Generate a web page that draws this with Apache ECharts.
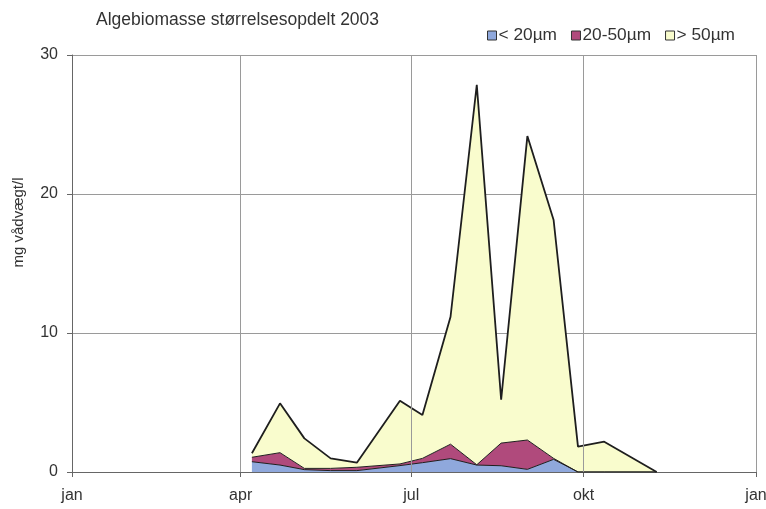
<!DOCTYPE html>
<html>
<head>
<meta charset="utf-8">
<script src="https://cdn.jsdelivr.net/npm/echarts@6/dist/echarts.min.js"></script>
<style>
html,body{margin:0;padding:0;background:#fff;}
#chart{width:766px;height:509px;}
</style>
</head>
<body>
<div id="chart"></div>
<script>
// Sample dates (2003)
var dates = ['2003-04-07','2003-04-22','2003-05-05','2003-05-19','2003-06-02','2003-06-25','2003-07-07','2003-07-22','2003-08-05','2003-08-18','2003-09-01','2003-09-15','2003-09-28','2003-10-12','2003-11-09'];
// mg vådvægt/l per size class
var small = [0.74, 0.50, 0.17, 0.10, 0.10, 0.46, 0.67, 0.96, 0.50, 0.45, 0.19, 0.91, 0, 0, 0];
var medium = [0.32, 0.89, 0.09, 0.16, 0.24, 0.12, 0.31, 1.04, 0.02, 1.63, 2.11, 0.07, 0, 0, 0];
var large = [0.29, 3.55, 2.16, 0.72, 0.33, 4.55, 3.12, 9.17, 27.34, 3.12, 21.87, 17.15, 1.82, 2.18, 0];
var seriesNames = ['< 20µm', '20-50µm', '> 50µm'];
var xTickDates = ['2003-01-01','2003-04-01','2003-07-01','2003-10-01','2004-01-01'];
var xTickLabels = ['jan','apr','jul','okt','jan'];
var yTicks = [0, 10, 20, 30];

function ts(s){ var p=s.split('-'); return Date.UTC(+p[0], +p[1]-1, +p[2]); }
var xTickTs = xTickDates.map(ts);
function pairs(vals){ return dates.map(function(d,i){ return [ts(d), vals[i]]; }); }

var colors = ['#8fa8dc', '#b04a7c', '#f9fccd'];
var font = 'Liberation Sans, Arial, sans-serif';
var chart = echarts.init(document.getElementById('chart'), null, {renderer:'canvas'});

function areaSeries(name, vals, color, lw){
  return {
    name: name, type: 'line', stack: 'total', data: pairs(vals),
    xAxisIndex: 0,
    showSymbol: false, symbol: 'none', smooth: false,
    lineStyle: {color: '#1e1e1e', width: lw},
    areaStyle: {color: color, opacity: 1},
    itemStyle: {color: color, borderColor: '#333', borderWidth: 1},
    z: 3
  };
}

var gridLineSeries = {
  type: 'line', data: [], silent: true, xAxisIndex: 1,
  markLine: {
    silent: true, symbol: 'none', label: {show: false},
    lineStyle: {color: '#9a9a9a', type: 'solid', width: 1},
    data: xTickTs.slice(1).map(function(t){ return {xAxis: t}; })
  },
  z: 1
};

chart.setOption({
  animation: false,
  backgroundColor: '#fff',
  color: colors,
  title: {
    text: 'Algebiomasse størrelsesopdelt 2003',
    left: 91, top: 6,
    textStyle: {fontFamily: font, fontSize: 17.5, fontWeight: 'normal', color: '#333'}
  },
  legend: {
    right: 26, top: 22, itemWidth: 9, itemHeight: 9, itemGap: 14,
    icon: 'rect',
    data: seriesNames.map(function(n,i){ return {name: n, itemStyle: {color: colors[i], borderColor: '#333', borderWidth: 1}}; }),
    textStyle: {fontFamily: font, fontSize: 17.3, color: '#333', padding: [0,0,0,-3]}
  },
  grid: {left: 72, right: 10, top: 55, bottom: 37, containLabel: false, outerBoundsMode: 'none'},
  xAxis: [{
    type: 'time',
    min: xTickTs[0], max: xTickTs[xTickTs.length-1],
    axisLine: {show: false}, axisTick: {show: false}, axisLabel: {show: false},
    splitLine: {show: false}
  }, {
    type: 'value', position: 'bottom',
    min: xTickTs[0], max: xTickTs[xTickTs.length-1],
    axisLine: {show: true, onZero: false, lineStyle: {color: '#666', width: 1}},
    axisTick: {show: true, length: 5, lineStyle: {color: '#666'}, customValues: xTickTs},
    axisLabel: {
      customValues: xTickTs,
      fontFamily: font, fontSize: 16, color: '#333', margin: 16,
      formatter: function(v){ var i = xTickTs.indexOf(v); return i >= 0 ? xTickLabels[i] : ''; }
    },
    splitLine: {show: false}
  }],
  yAxis: {
    type: 'value', min: 0, max: 30, interval: 10,
    name: 'mg vådvægt/l', nameLocation: 'middle', nameGap: 46, nameRotate: 90,
    nameTextStyle: {fontFamily: font, fontSize: 15, color: '#333', padding: [0,0,0,82]},
    axisLine: {show: true, lineStyle: {color: '#666', width: 1}},
    axisTick: {show: true, length: 5, inside: false, lineStyle: {color: '#666'}},
    axisLabel: {fontFamily: font, fontSize: 16, color: '#333', margin: 14,
      formatter: function(v){ return yTicks.indexOf(v) >= 0 ? String(v) : ''; }},
    splitLine: {show: true, lineStyle: {color: '#9a9a9a', width: 1}}
  },
  series: [
    areaSeries(seriesNames[0], small, colors[0], 1),
    areaSeries(seriesNames[1], medium, colors[1], 1),
    areaSeries(seriesNames[2], large, colors[2], 1.8),
    gridLineSeries
  ]
});
</script>
</body>
</html>
